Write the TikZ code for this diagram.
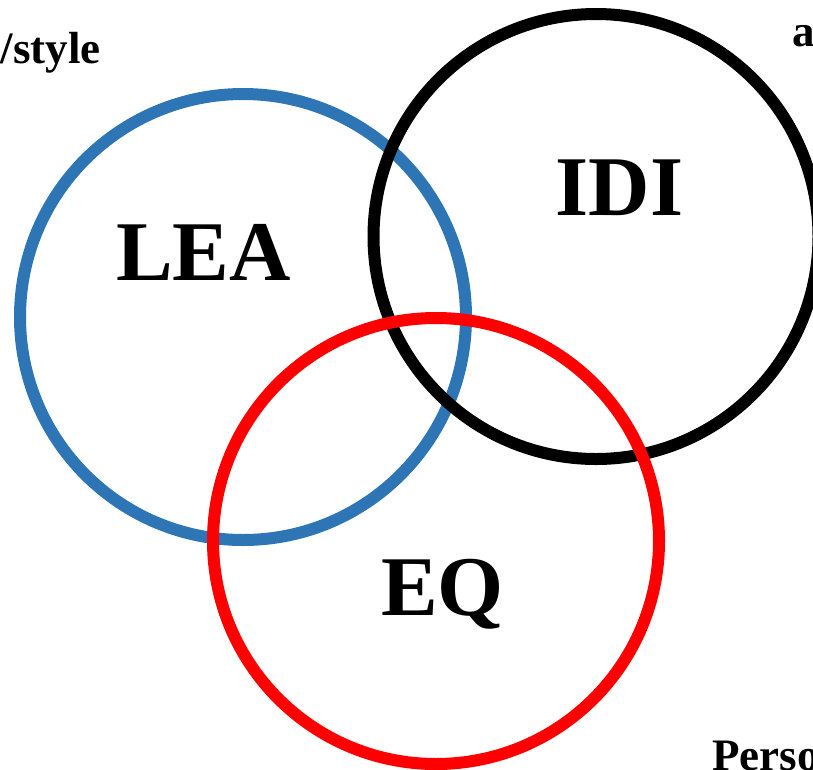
\documentclass[tikz,border=0pt]{standalone}
\usepackage{fontspec}
\setmainfont{Liberation Serif}
\definecolor{ringblue}{RGB}{46,117,182}
\definecolor{ringred}{RGB}{255,0,0}
\begin{document}
\begin{tikzpicture}[x=1pt,y=-1pt,
  ring/.style={circle,draw,line width=12pt,inner sep=0pt,minimum size=446pt},
  big/.style={inner sep=0pt,font=\bfseries\fontsize{85}{85}\selectfont},
  small/.style={inner sep=0pt,font=\bfseries\fontsize{45}{45}\selectfont}]
\useasboundingbox (0,0) rectangle (813,769);
\clip (0,0) rectangle (813,769);
\node[ring,draw=ringblue] (lea) at (243,317) {};
\node[ring,draw=black,minimum size=445pt] (idi) at (596,236.5) {};
\node[ring,draw=ringred] (eq) at (436,541) {};
\node[big,anchor=base] (tlea) at (203.5,280) {LEA};
\node[big,anchor=base] (tidi) at (619.5,215) {IDI};
\node[big,anchor=base] (teq) at (442.5,615) {EQ};
\node[small,anchor=base east] (tstyle) at (101,63) {/style};
\node[small,anchor=base west] (ta) at (792,46) {a};
\node[small,anchor=base west] (tperso) at (712,770) {Perso};
\end{tikzpicture}
\end{document}
